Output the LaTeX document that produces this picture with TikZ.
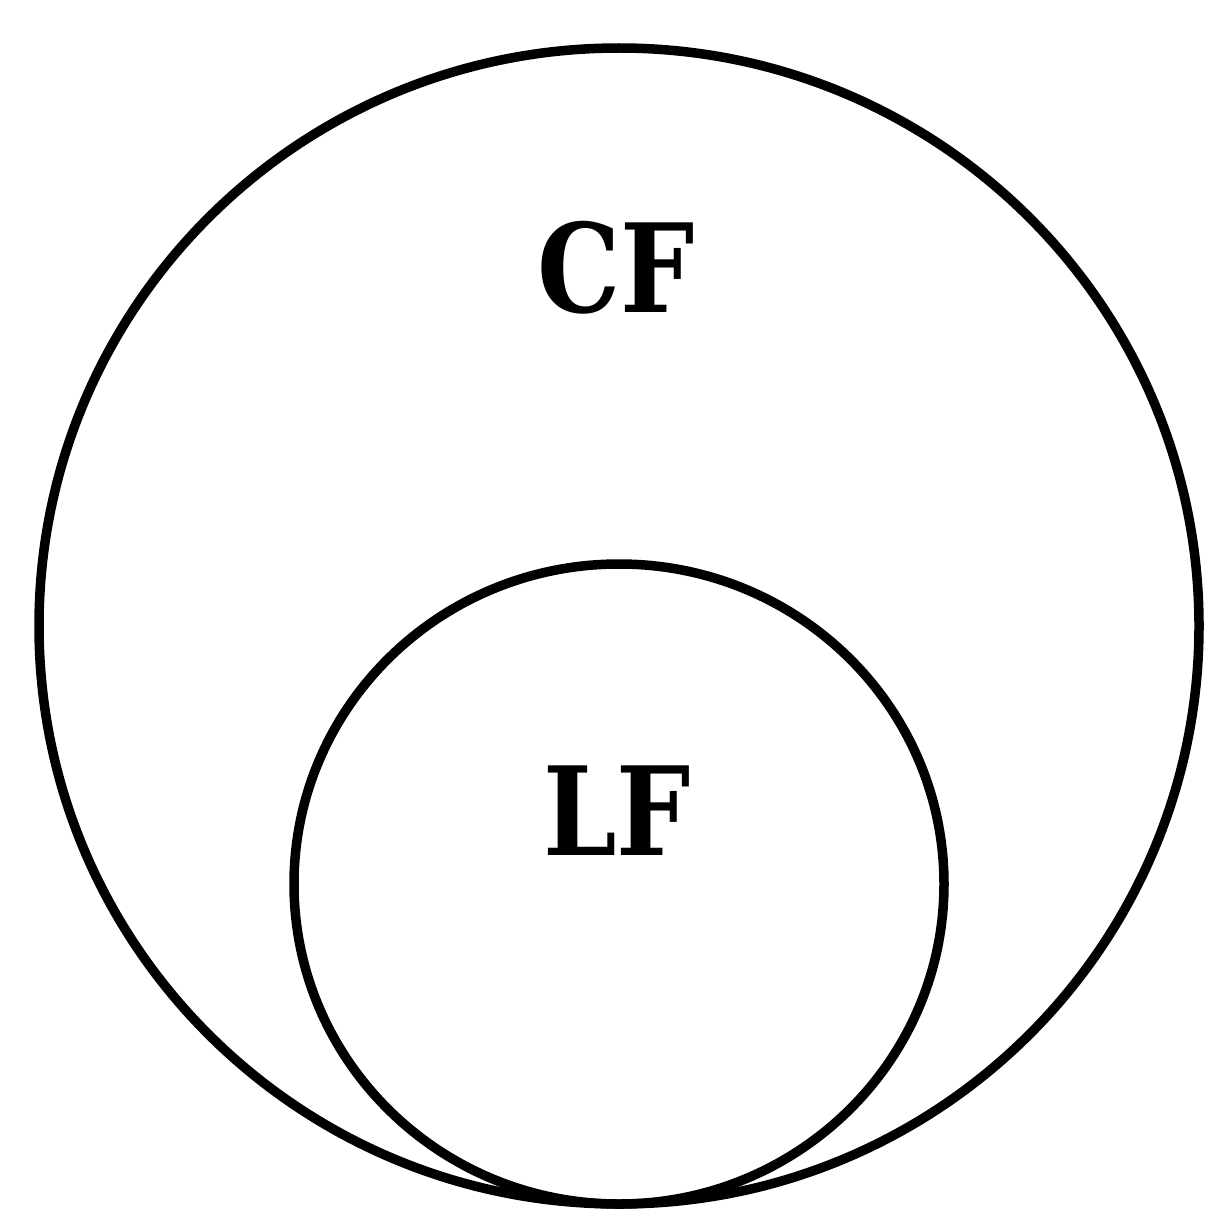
\documentclass[tikz,border=0pt]{standalone}
\usepackage{fontspec}
\usepackage{graphicx}
\newfontfamily\lblfont{DejaVu Serif}
\begin{document}
\begin{tikzpicture}[x=1pt,y=-1pt,
  ring/.style={draw=black,line width=9.5pt},
  lbl/.style={inner sep=0pt,font=\lblfont\bfseries\fontsize{123}{123}\selectfont}]
\useasboundingbox (0,0) rectangle (1205,1212);
\draw[ring] (619,626) ellipse [x radius=580, y radius=578];
\draw[ring] (619,884) ellipse [x radius=325, y radius=320];
\node[lbl] (cf) at (616,268) {\scalebox{0.85}[1]{CF}};
\node[lbl] (lf) at (617,811) {\scalebox{0.85}[1]{LF}};
\end{tikzpicture}
\end{document}
